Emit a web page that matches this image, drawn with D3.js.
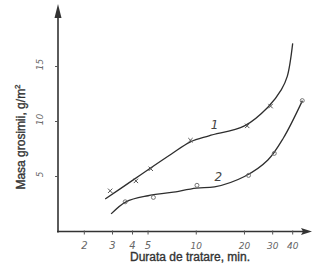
<!DOCTYPE html>
<html>
<head>
<meta charset="utf-8">
<script src="https://cdn.jsdelivr.net/npm/d3@7"></script>
<style>
  body { margin: 0; background: #fff; }
  .title { font-family: 'Liberation Sans', Arial, sans-serif; font-size: 12px; fill: #333; stroke: #333; stroke-width: 0.35px; }
  .tick-label { font-family: 'DejaVu Sans', sans-serif; font-style: italic; font-size: 10px; fill: #666; }
</style>
</head>
<body>
<div id="chart"></div>
<script>
// tick values on both axes
const xTicks = [2, 3, 4, 5, 10, 20, 30, 40];
const yTicks = [5, 10, 15];

// measured points, series 1 (crosses) and series 2 (circles)
const series1Time = [2.9, 4.2, 5.2, 9.2, 20.8, 29.1];
const series1Mass = [3.7, 4.6, 5.7, 8.3, 9.6, 11.4];
const series2Time = [3.6, 5.4, 10.1, 21.2, 30.7, 45.9];
const series2Mass = [2.7, 3.1, 4.2, 5.1, 7.1, 11.9];

// hand drawn trend curves
const curve1Time = [2.7, 4, 5, 7, 9.2, 12, 20, 28, 34, 37, 40];
const curve1Mass = [2.95, 4.65, 5.62, 7.05, 8.15, 8.7, 9.6, 11.3, 12.9, 14.1, 17.1];
const curve2Time = [2.94, 3.64, 5, 7, 10, 13, 20, 28, 35, 46];
const curve2Mass = [1.6, 2.7, 3.25, 3.55, 3.95, 4.05, 5.0, 6.5, 8.5, 11.9];

const width = 327, height = 272;
const origin = {x: 58, y: 231.5};

const svg = d3.select('#chart').append('svg')
  .attr('width', width)
  .attr('height', height);

// log time axis, linear mass axis
const x = d3.scaleLog().domain([1.37, 52.8]).range([origin.x, 312]);
const y = d3.scaleLinear().domain([0, 5]).range([origin.y, origin.y - 55]);

const ink = '#333';

// x axis with arrow
svg.append('line')
  .attr('x1', origin.x - 1).attr('x2', 306)
  .attr('y1', origin.y).attr('y2', origin.y)
  .attr('stroke', ink).attr('stroke-width', 1.6);
svg.append('path')
  .attr('d', `M312,${origin.y} L301,${origin.y - 3.5} L303,${origin.y} L301,${origin.y + 3.5} Z`)
  .attr('fill', ink);

// y axis with arrow
svg.append('line')
  .attr('x1', origin.x).attr('x2', origin.x)
  .attr('y1', origin.y + 1).attr('y2', 14)
  .attr('stroke', ink).attr('stroke-width', 1.6);
svg.append('path')
  .attr('d', `M${origin.x},4 L${origin.x - 3.5},18 L${origin.x + 3.5},18 Z`)
  .attr('fill', ink);

// x ticks and labels
const xt = svg.append('g');
xt.selectAll('line').data(xTicks).enter().append('line')
  .attr('x1', d => x(d)).attr('x2', d => x(d))
  .attr('y1', origin.y - 1).attr('y2', origin.y + 3)
  .attr('stroke', '#555').attr('stroke-width', 1);
xt.selectAll('text').data(xTicks).enter().append('text')
  .attr('class', 'tick-label')
  .attr('x', d => x(d)).attr('y', origin.y + 17)
  .attr('text-anchor', 'middle')
  .style('font-size', d => d >= 10 ? '9px' : '10px')
  .text(d => d);

// y ticks and labels (rotated, as on the scan)
const yt = svg.append('g');
yt.selectAll('line').data(yTicks).enter().append('line')
  .attr('x1', origin.x - 3).attr('x2', origin.x)
  .attr('y1', d => y(d)).attr('y2', d => y(d))
  .attr('stroke', '#555').attr('stroke-width', 1);
yt.selectAll('text').data(yTicks).enter().append('text')
  .attr('class', 'tick-label')
  .attr('transform', d => `translate(${origin.x - 15},${y(d) - 2}) rotate(-90)`)
  .attr('text-anchor', 'middle')
  .style('font-size', '9px')
  .text(d => d);

// trend curves
const line = d3.line()
  .x(d => x(d[0]))
  .y(d => y(d[1]))
  .curve(d3.curveCatmullRom.alpha(0.5));

const curves = [d3.zip(curve1Time, curve1Mass), d3.zip(curve2Time, curve2Mass)];
svg.selectAll('.curve').data(curves).enter().append('path')
  .attr('class', 'curve')
  .attr('d', line)
  .attr('fill', 'none')
  .attr('stroke', '#2e2e2e')
  .attr('stroke-width', 1.3);

// markers: crosses for series 1
svg.selectAll('.cross').data(d3.zip(series1Time, series1Mass)).enter().append('path')
  .attr('class', 'cross')
  .attr('d', d => {
    const cx = x(d[0]), cy = y(d[1]);
    return `M${cx - 2.2},${cy - 2.2}L${cx + 2.2},${cy + 2.2}M${cx - 2.2},${cy + 2.2}L${cx + 2.2},${cy - 2.2}`;
  })
  .attr('stroke', '#555').attr('stroke-width', 1);

// markers: circles for series 2
svg.selectAll('.dot').data(d3.zip(series2Time, series2Mass)).enter().append('circle')
  .attr('class', 'dot')
  .attr('cx', d => x(d[0])).attr('cy', d => y(d[1]))
  .attr('r', 2)
  .attr('fill', 'none')
  .attr('stroke', '#666').attr('stroke-width', 0.9);

// curve numbers
svg.append('text').attr('class', 'tick-label')
  .attr('x', x(12.3)).attr('y', y(9.3))
  .style('font-size', '12px').style('fill', '#444')
  .text('1');
svg.append('text').attr('class', 'tick-label')
  .attr('x', x(13)).attr('y', y(4.6))
  .style('font-size', '12px').style('fill', '#444')
  .text('2');

// axis titles
svg.append('text').attr('class', 'title')
  .attr('x', 190).attr('y', 261)
  .attr('text-anchor', 'middle')
  .text('Durata de tratare, min.');

const yTitle = svg.append('text').attr('class', 'title')
  .attr('transform', 'translate(25,137) rotate(-90)')
  .attr('text-anchor', 'middle');
yTitle.append('tspan').text('Masa grosimii, g/m');
yTitle.append('tspan').attr('dy', -5).style('font-size', '8px').text('2');
</script>
</body>
</html>
